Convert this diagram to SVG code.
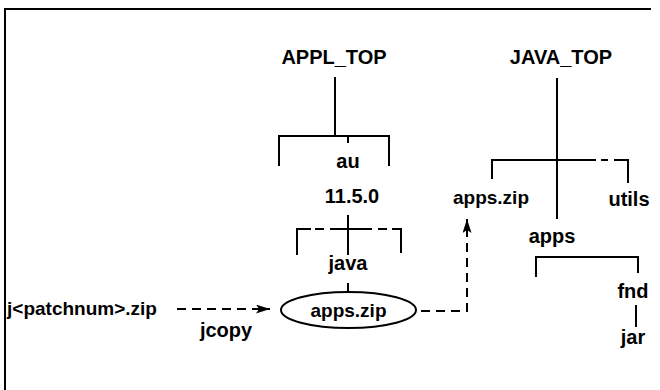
<svg xmlns="http://www.w3.org/2000/svg" width="660" height="390" viewBox="0 0 660 390">
<style>
text{font-family:"Liberation Sans",Arial,Helvetica,sans-serif;font-weight:bold;font-size:20px;fill:#000;text-anchor:middle}
.s{font-size:19px}
.ln{stroke:#000;stroke-width:2;fill:none}
.d{stroke:#000;stroke-width:2;fill:none;stroke-dasharray:9 6}
</style>
<defs>
<marker id="ah" viewBox="0 0 14 9" refX="14" refY="4.5" markerWidth="14" markerHeight="9" markerUnits="userSpaceOnUse" orient="auto">
<path d="M0,0 L14,4.5 L0,9 L3,4.5 Z" fill="#000"/>
</marker>
</defs>
<rect width="660" height="390" fill="#fff"/>
<g id="frame"><path class="ln" d="M5,390 V9 H651"/></g>
<g id="connectors">
<path class="ln" d="M335,77 V136 M279,166 V136 H389 V166 M348,136 V143"/>
<path class="ln" d="M348,215 V255 M297,255 V229 H311 M401,253 V229 H392"/>
<path class="d" d="M315,229 H332 M363,229 H392" stroke-dasharray="9 5"/>
<path class="ln" d="M332,229 H363"/>
<path class="ln" d="M348,283 V292"/>
<path class="ln" d="M557,78 V219 M492,179 V160 H596 M628,183 V160 H614"/>
<path class="ln" d="M601,160 H608"/>
<path class="ln" d="M536,277 V257 H638 V273"/>
<path class="ln" d="M636,305 V327"/>
<path class="d" d="M177,309 H270" stroke-dasharray="8 6" marker-end="url(#ah)"/>
<path class="d" d="M421,311 H467 V219" stroke-dasharray="9 6" marker-end="url(#ah)"/>
</g>
<g id="appl_top"><text x="334" y="64">APPL_TOP</text></g>
<g id="au"><text x="348" y="168">au</text></g>
<g id="v1150"><text x="352" y="203">11.5.0</text></g>
<g id="java"><text x="348" y="270">java</text></g>
<g id="apps_zip_local"><ellipse class="ln" cx="348.5" cy="310" rx="67.5" ry="18"/><text class="s" x="348.5" y="317">apps.zip</text></g>
<g id="patch"><text class="s" x="82" y="315">j&lt;patchnum&gt;.zip</text></g>
<g id="jcopy"><text x="226" y="337">jcopy</text></g>
<g id="java_top"><text x="561" y="64">JAVA_TOP</text></g>
<g id="apps_zip_java"><text class="s" x="491" y="204">apps.zip</text></g>
<g id="utils"><text x="629" y="206">utils</text></g>
<g id="apps"><text x="552" y="243">apps</text></g>
<g id="fnd"><text x="633" y="298">fnd</text></g>
<g id="jar"><text x="633" y="344">jar</text></g>
</svg>
